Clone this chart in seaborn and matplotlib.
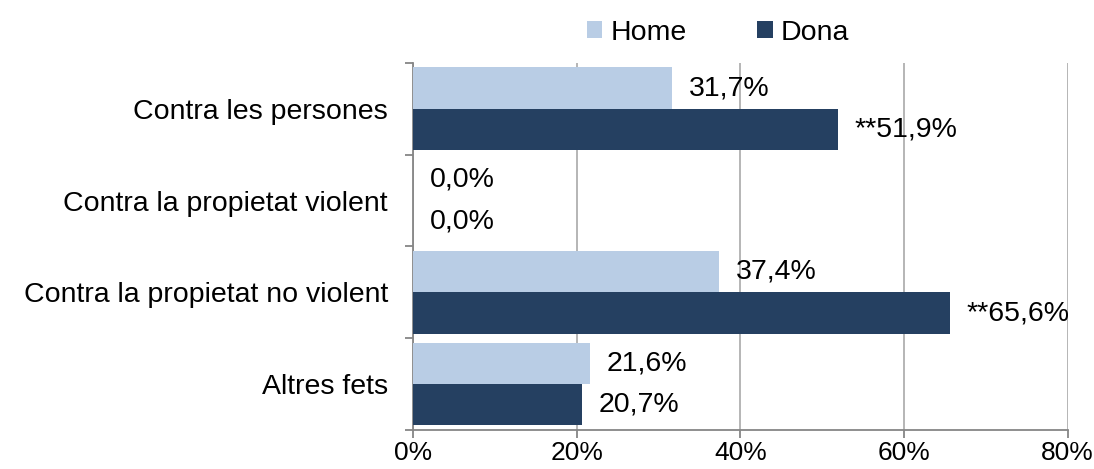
import seaborn as sns
import matplotlib.pyplot as plt
import pandas as pd
from matplotlib.ticker import FixedLocator

categories = ["Contra les persones", "Contra la propietat violent",
              "Contra la propietat no violent", "Altres fets"]
home = [31.7, 0.0, 37.4, 21.6]
dona = [51.9, 0.0, 65.6, 20.7]
dona_marks = ["**", "", "**", ""]

df = pd.DataFrame({
    "categoria": categories * 2,
    "valor": home + dona,
    "sexe": ["Home"] * len(categories) + ["Dona"] * len(categories),
})

sns.set_style("white")
plt.rcParams['font.family'] = ['Liberation Sans', 'DejaVu Sans']
plt.rcParams['text.color'] = 'black'
plt.rcParams['xtick.color'] = 'black'
plt.rcParams['ytick.color'] = 'black'

fig = plt.figure(figsize=(10.94, 4.69), dpi=100)
ax = fig.add_axes([0.3775, 0.083, 0.5985, 0.783])

g = sns.barplot(data=df, y="categoria", x="valor", hue="sexe", orient="h",
                palette={"Home": "#B9CDE5", "Dona": "#254061"}, saturation=1,
                width=0.9, linewidth=0, ax=ax, zorder=3)

# value labels
for cont, marks in zip(ax.containers, [[""] * 4, dona_marks]):
    labels = [m + ("%.1f" % v).replace(".", ",") + "%" for m, v in zip(marks, cont.datavalues)]
    ax.bar_label(cont, labels=labels, padding=12, fontsize=20.5, color="black")

ax.set_xlim(0, 80)
ax.set_ylim(3.5, -0.5)
ax.set_xticks([0, 20, 40, 60, 80])
ax.set_xticklabels(["0%", "20%", "40%", "60%", "80%"], fontsize=19)
ax.set_xlabel("")
ax.set_ylabel("")
ax.tick_params(axis="y", which="major", length=0, labelsize=20.5, pad=18, labelcolor="black")
ax.yaxis.set_minor_locator(FixedLocator([-0.5, 0.5, 1.5, 2.5, 3.5]))
ax.tick_params(axis="y", which="minor", left=True, length=6, width=1.3, color="#868686")
ax.tick_params(axis="x", which="major", bottom=True, length=6, width=1.3, color="#868686",
               pad=2, labelcolor="black")
ax.grid(axis="x", color="#B0B0B0", linewidth=1.3, zorder=0)
ax.set_axisbelow(True)

for s in ["top", "right"]:
    ax.spines[s].set_visible(False)
for s in ["left", "bottom"]:
    ax.spines[s].set_color("#868686")
    ax.spines[s].set_linewidth(1.3)

ax.legend(loc="lower center", bbox_to_anchor=(0.466, 1.0), ncol=2, frameon=False,
          fontsize=20.5, handlelength=0.55, handleheight=0.55, handletextpad=0.3,
          columnspacing=2.45, borderaxespad=0.2, labelcolor="black")

fig.savefig("out.png", dpi=100)
